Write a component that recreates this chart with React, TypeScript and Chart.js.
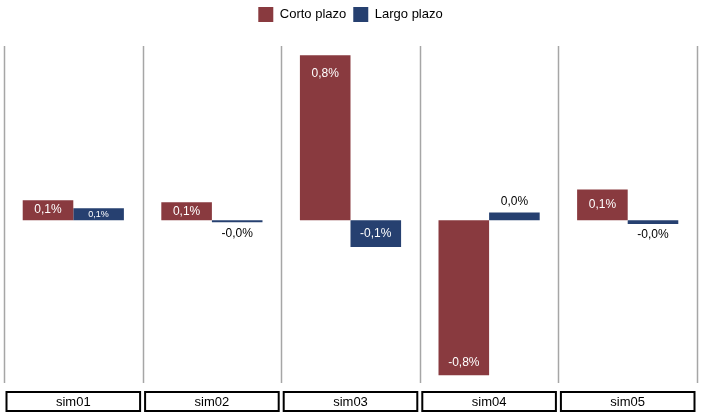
import { useEffect, useRef } from "react"
import { Chart, registerables } from "chart.js"

Chart.register(...registerables)

const simulations = ["sim01", "sim02", "sim03", "sim04", "sim05"]
const cortoPlazo = [0.097, 0.087, 0.8, -0.752, 0.149]
const largoPlazo = [0.058, -0.01, -0.13, 0.037, -0.019]

const FONT = "'Liberation Sans', Arial, sans-serif"

const fmt = (v: number) => v.toFixed(1).replace(".", ",") + "%"

// push the plot area down a bit below the legend
const legendSpace = {
  id: "legendSpace",
  beforeUpdate(chart: any) {
    const legend = chart.legend
    if (!legend || legend._patched) return
    const fit = legend.fit
    legend.fit = function () {
      fit.call(this)
      this.height += 14
    }
    legend._patched = true
  },
}

// grey panel separators + boxed strip labels under each panel
const panelPlugin = {
  id: "panels",
  beforeDatasetsDraw(chart: Chart) {
    const { ctx, chartArea, scales } = chart
    const x = scales.x
    const step = chartArea.width / simulations.length
    ctx.save()
    ctx.strokeStyle = "#a6a6a6"
    ctx.lineWidth = 1.5
    for (let i = 0; i <= simulations.length; i++) {
      const px = Math.round(x.getPixelForValue(0) - step / 2 + i * step) + 0.5
      ctx.beginPath()
      ctx.moveTo(px, chartArea.top)
      ctx.lineTo(px, chartArea.bottom)
      ctx.stroke()
    }
    ctx.restore()
  },
  afterDraw(chart: Chart) {
    const { ctx, chartArea, scales } = chart
    const x = scales.x
    const step = chartArea.width / simulations.length
    const w = step - 5
    const top = chartArea.bottom + 9
    const h = 19
    ctx.save()
    ctx.strokeStyle = "#000"
    ctx.lineWidth = 2
    ctx.fillStyle = "#000"
    ctx.font = `13px ${FONT}`
    ctx.textAlign = "center"
    ctx.textBaseline = "middle"
    simulations.forEach((s, i) => {
      const cx = x.getPixelForValue(i)
      ctx.strokeRect(cx - w / 2, top, w, h)
      ctx.fillText(s, cx, top + h / 2 + 1)
    })
    ctx.restore()
  },
}

// value labels: inside the bar when it is tall enough, outside otherwise
const labelPlugin = {
  id: "valueLabels",
  afterDatasetsDraw(chart: Chart) {
    const { ctx } = chart
    ctx.save()
    ctx.textAlign = "center"
    ctx.textBaseline = "middle"
    chart.data.datasets.forEach((ds, di) => {
      const meta = chart.getDatasetMeta(di)
      meta.data.forEach((bar: any, i) => {
        const v = ds.data[i] as number
        const len = Math.abs(bar.base - bar.y)
        const dir = v >= 0 ? -1 : 1
        let y: number
        if (len < 10) {
          ctx.fillStyle = "#000"
          ctx.font = `12px ${FONT}`
          y = bar.y + dir * 11
        } else if (len < 17) {
          ctx.fillStyle = "#fff"
          ctx.font = `9px ${FONT}`
          y = (bar.y + bar.base) / 2
        } else if (len < 40) {
          ctx.fillStyle = "#fff"
          ctx.font = `12px ${FONT}`
          y = (bar.y + bar.base) / 2
        } else {
          ctx.fillStyle = "#fff"
          ctx.font = `12px ${FONT}`
          y = v >= 0 ? bar.y + 18 : bar.y - 12
        }
        ctx.fillText(fmt(v), bar.x, y)
      })
    })
    ctx.restore()
  },
}

export default function App() {
  const chartRef = useRef<HTMLCanvasElement>(null)
  const chartInstance = useRef<Chart | null>(null)

  useEffect(() => {
    if (!chartRef.current) return
    if (chartInstance.current) chartInstance.current.destroy()

    const ctx = chartRef.current.getContext("2d")
    if (!ctx) return

    chartInstance.current = new Chart(ctx, {
      type: "bar",
      data: {
        labels: simulations,
        datasets: [
          {
            label: "Corto plazo",
            data: cortoPlazo,
            backgroundColor: "#893a3f",
            categoryPercentage: 0.73,
            barPercentage: 1,
          },
          {
            label: "Largo plazo",
            data: largoPlazo,
            backgroundColor: "#264070",
            categoryPercentage: 0.73,
            barPercentage: 1,
          },
        ],
      },
      options: {
        animation: false,
        responsive: true,
        maintainAspectRatio: false,
        layout: { padding: { top: 0, left: 4, right: 6, bottom: 33 } },
        plugins: {
          legend: {
            position: "top",
            labels: {
              boxWidth: 15,
              boxHeight: 15,
              padding: 7,
              color: "#000",
              font: { family: FONT, size: 13 },
            },
          },
          tooltip: { enabled: false },
        },
        scales: {
          x: { display: false },
          y: { display: false, min: -0.79, max: 0.845 },
        },
      },
      plugins: [legendSpace, panelPlugin, labelPlugin],
    })

    return () => {
      if (chartInstance.current) {
        chartInstance.current.destroy()
        chartInstance.current = null
      }
    }
  }, [])

  return (
    <div style={{ position: "absolute", left: 0, top: 0, width: 703, height: 416 }}>
      <canvas ref={chartRef} />
    </div>
  )
}
